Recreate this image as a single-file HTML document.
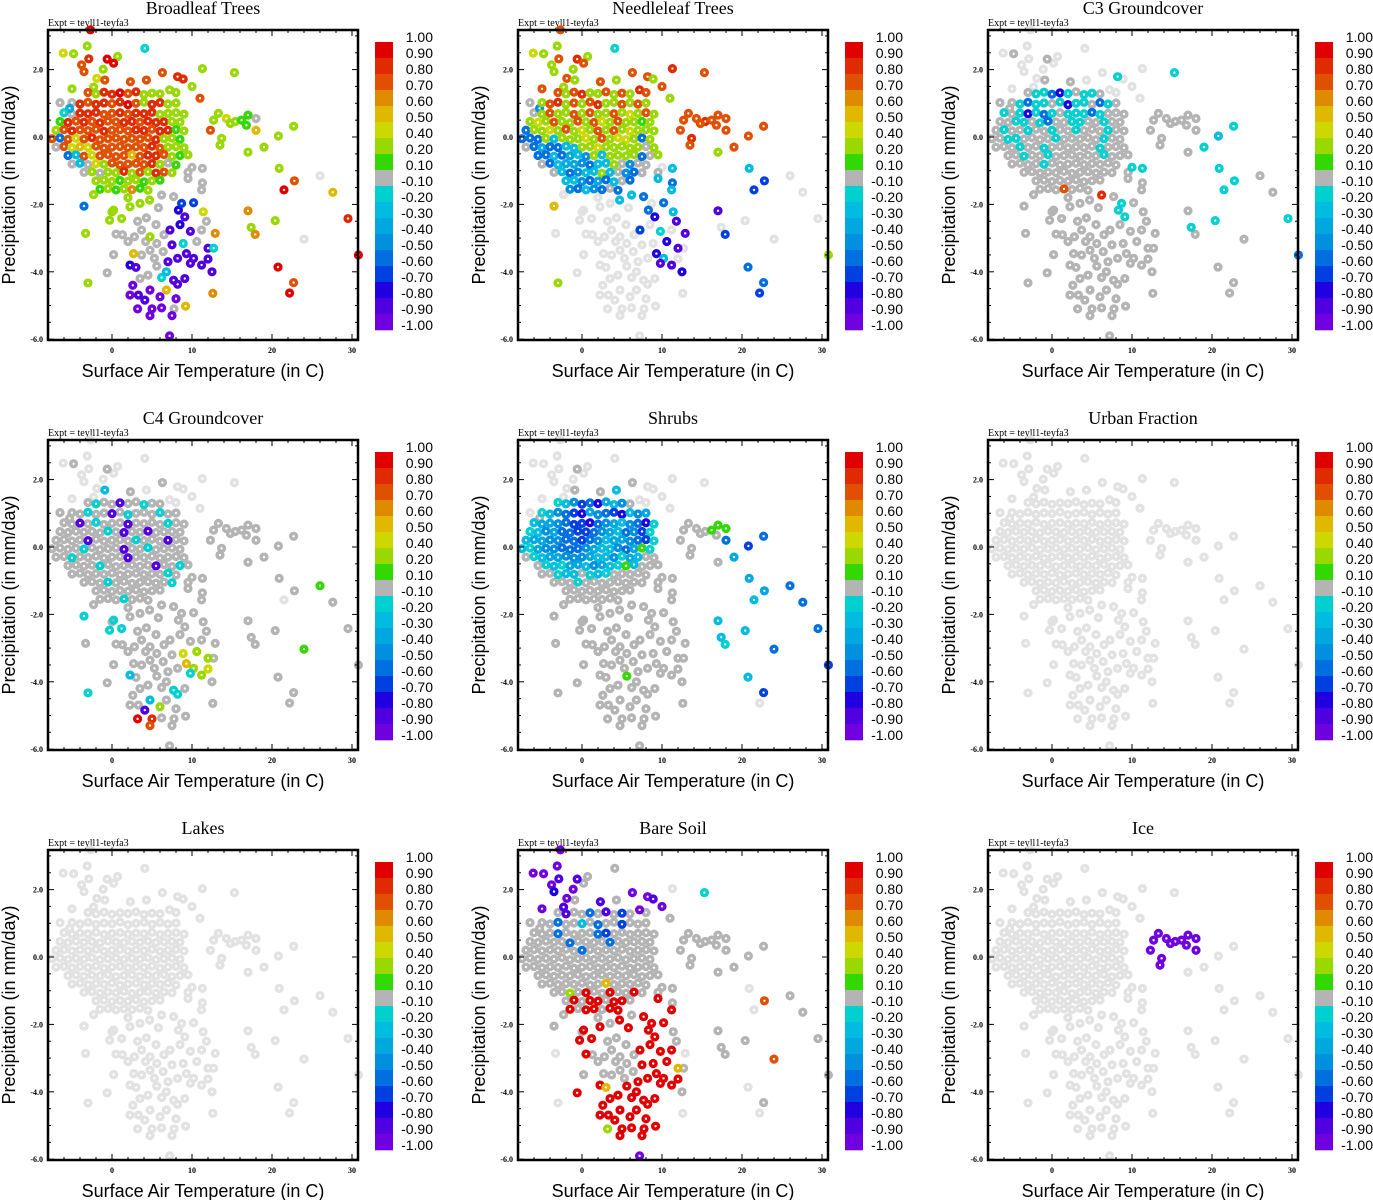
<!DOCTYPE html>
<html><head><meta charset="utf-8"><style>
html,body{margin:0;padding:0;background:#fff;}
svg{display:block;}
.ttl{font-family:"Liberation Serif",serif;font-size:18px;}
.expt{font-family:"Liberation Serif",serif;font-size:10px;}
.tk{font-family:"Liberation Serif",serif;font-size:8px;font-weight:bold;}
.ax{font-family:"Liberation Sans",sans-serif;font-size:18px;}
.cb{font-family:"Liberation Sans",sans-serif;font-size:14px;}
</style></head><body>
<svg id="fig" width="1373" height="1200" viewBox="0 0 1373 1200" xmlns="http://www.w3.org/2000/svg"></svg>
<script>
// ---- data ----
const panelTitles = ["Broadleaf Trees","Needleleaf Trees","C3 Groundcover","C4 Groundcover","Shrubs","Urban Fraction","Lakes","Bare Soil","Ice"];
const colorbarLabels = ["1.00","0.90","0.80","0.70","0.60","0.50","0.40","0.20","0.10","-0.10","-0.20","-0.30","-0.40","-0.50","-0.60","-0.70","-0.80","-0.90","-1.00"];
const binColors = ["#e00000","#e02a00","#e05000","#e08a00","#e0b800","#ccd800","#99d800","#33d800","#b4b4b4","#00d0d0","#00bce0","#00a8e0","#0090e0","#0070e0","#0040e0","#2000e0","#5000e0","#7000e0"];
const xTicks = [0,10,20,30];
const yTicks = [2,0,-2,-4,-6];
const yTickLabels = ["2.0","0.0","-2.0","-4.0","-6.0"];

const topPts = [[-2.7,3.18],[-3.1,2.7],[-6.1,2.49],[-4.8,2.47],[-2.9,2.32],[4.1,2.63],[-3.8,2.14],[-3.5,1.94],[-0.6,2.31],[0.7,2.39],[0.2,2.19],[-1.1,2.01],[11.3,2.03],[15.3,1.91],[6.3,1.91],[8.2,1.79],[8.9,1.72],[-1.9,1.74],[-0.9,1.69],[2.3,1.64],[4.3,1.69],[-5,1.43],[-2.3,1.48],[7.2,1.4],[8,1.32],[10,1.5],[11,1.15],[-6.5,1.02],[-5.3,0.85]];
const clusterPts = [
[-3,1.32],[-2,1.28],[-1,1.33],[0,1.27],[1,1.31],[2,1.29],[3,1.34],[4,1.26],[5,1.3],[6,1.28],
[-5,1.02],[-4,0.98],[-3,1.03],[-2,0.97],[-1,1.01],[0,0.99],[1,1.04],[2,0.96],[3,1.0],[4,1.03],[5,0.97],[6,1.02],[7,0.98],[8,1.01],
[-6,0.72],[-5,0.68],[-4,0.71],[-3,0.69],[-2,0.73],[-1,0.67],[0,0.7],[1,0.72],[2,0.68],[3,0.71],[4,0.69],[5,0.73],[6,0.67],[7,0.7],[8,0.72],[9,0.68],
[-6.5,0.46],[-5.5,0.43],[-4.5,0.47],[-3.5,0.44],[-2.5,0.46],[-1.5,0.42],[-0.5,0.47],[0.5,0.45],[1.5,0.43],[2.5,0.46],[3.5,0.44],[4.5,0.47],[5.5,0.43],[6.5,0.45],[7.5,0.46],[8.5,0.44],
[-7,0.2],[-6,0.22],[-5,0.18],[-4,0.21],[-3,0.19],[-2,0.23],[-1,0.17],[0,0.2],[1,0.22],[2,0.18],[3,0.21],[4,0.19],[5,0.23],[6,0.17],[7,0.2],[8,0.22],[9,0.18],
[-7.5,-0.05],[-6.5,-0.03],[-5.5,-0.07],[-4.5,-0.04],[-3.5,-0.06],[-2.5,-0.02],[-1.5,-0.08],[-0.5,-0.05],[0.5,-0.03],[1.5,-0.07],[2.5,-0.04],[3.5,-0.06],[4.5,-0.02],[5.5,-0.08],[6.5,-0.05],[7.5,-0.03],[8.5,-0.07],
[-7,-0.3],[-6,-0.28],[-5,-0.32],[-4,-0.29],[-3,-0.31],[-2,-0.27],[-1,-0.33],[0,-0.3],[1,-0.28],[2,-0.32],[3,-0.29],[4,-0.31],[5,-0.27],[6,-0.33],[7,-0.3],[8,-0.28],[9,-0.32],
[-5.5,-0.55],[-4.5,-0.53],[-3.5,-0.57],[-2.5,-0.54],[-1.5,-0.56],[-0.5,-0.52],[0.5,-0.58],[1.5,-0.55],[2.5,-0.53],[3.5,-0.57],[4.5,-0.54],[5.5,-0.56],[6.5,-0.52],[7.5,-0.58],[8.5,-0.55],[9.5,-0.53],
[-5,-0.8],[-4,-0.78],[-3,-0.82],[-2,-0.79],[-1,-0.81],[0,-0.77],[1,-0.83],[2,-0.8],[3,-0.78],[4,-0.82],[5,-0.79],[6,-0.81],[7,-0.77],[8,-0.83],
[-3.5,-1.05],[-2.5,-1.03],[-1.5,-1.07],[-0.5,-1.04],[0.5,-1.06],[1.5,-1.02],[2.5,-1.08],[3.5,-1.05],[4.5,-1.03],[5.5,-1.07],[6.5,-1.04],[7.5,-1.06],[9.5,-1.05],
[-2,-1.3],[-1,-1.28],[0,-1.32],[1,-1.29],[2,-1.31],[3,-1.27],[4,-1.33],[5,-1.3],[6,-1.28],
[-1.5,-1.55],[-0.5,-1.53],[0.5,-1.57],[1.5,-1.54],[2.5,-1.56],[3.5,-1.52],[4.5,-1.58]];
const armPts = [[12.7,0.5],[13.3,0.7],[14.3,0.55],[15.4,0.46],[16.2,0.5],[17,0.65],[18,0.55],[12.3,0.2],[13.7,-0.04],[13.5,-0.24],[18,0.2],[22.7,0.32],[20.8,0.03],[19,-0.3],[17,-0.45],[20.9,-0.93],[26,-1.15],[22.8,-1.3],[21.5,-1.57],[27.6,-1.64],[17,-2.19],[20.4,-2.48],[17.4,-2.68],[17.9,-2.89],[24,-3.03],[29.5,-2.42],[20.75,-3.86],[22.7,-4.32],[22.2,-4.63],[14.8,0.4],[16.8,0.35],[30.8,-3.5]];
const lowerPts = [[-3.5,-2.05],[-3.3,-2.86],[-3,-4.33],[-0.6,-4.03],[0.2,-3.49],[-0.3,-2.47],[0.2,-2.17],[1.2,-2.42],[0.5,-2.88],[1.3,-2.9],[2,-3.1],[2.8,-2.96],[3.7,-2.76],[4.75,-2.96],[5.6,-3.16],[2.7,-3.46],[3.7,-3.5],[4.75,-3.36],[6.4,-3.4],[7.25,-2.76],[8.3,-2.17],[9.1,-2.37],[8.7,-1.97],[10.2,-1.95],[11.4,-2.22],[11.8,-2.5],[11.2,-2.76],[12.9,-2.86],[10.6,-3.1],[8.9,-3.16],[9.3,-3.46],[10.2,-3.6],[12,-3.3],[12.7,-3.3],[12,-3.62],[11.2,-3.8],[12.5,-4],[12.6,-4.64],[2.25,-3.8],[3,-3.87],[3.5,-4.2],[2.6,-4.4],[2.25,-4.69],[3.3,-4.69],[4.1,-4.84],[4.75,-4.54],[5,-5.1],[4.75,-5.3],[3.2,-5.1],[5.6,-3.83],[6.2,-4.17],[6.8,-4],[6.8,-4.54],[6,-4.74],[6.2,-5.07],[7.5,-5.3],[7.75,-5.1],[9.2,-5.02],[7.7,-4.25],[8.2,-4.37],[9.1,-4.2],[9.8,-3.75],[11.3,-0.93],[11.3,-1.36],[11.2,-1.57],[10,-0.9],[9.5,-1.23],[7.7,-1.77],[6.2,-1.72],[4.7,-1.87],[3.5,-1.97],[2.25,-2.07],[0,-2.22],[-2.3,-1.71],[3.2,-2.5],[4.3,-2.4],[5.5,-2.6],[6.5,-2.9],[7.5,-3.2],[8.2,-3.6],[4.2,-3.1],[5.3,-3.6],[7,-3.7],[8.5,-2.6],[9.8,-2.8],[2,-1.8],[5.8,-2.1],[7.2,-5.9],[4.5,-4.1],[8,-4.8]];

// value codes: a..r = colour bins (top red .. bottom purple), '.' = missing (light grey)
const broadleafCodes = ["agfgbjccagagggcbbfcccgggggcil",
 "cgbbacbggg|ibcbbcbacgbbgg|jibbbccbcbbbgggg|hbcbcbccbbcbbbgg|gcbcccbcccbbcbbhg|cncfcbcccccccbggh|icfefcccccccbcggg|nkcfccccecbbcghg|ikifgcccccbgih|igiggbgcgbcgi|ggghgghgh|hghgdhg",
 "ggfghhicggeggggg.caedggd.bacagha",
 "nggiigggii|iiigieiiiq|pqoofiidij|qqqjqqqdpq|irrqqrrrri|jkerrrieqq|qqiiiiiiig|ggggiiiiqq|iiqpqgirir"];
const needleleafCodes = ["cgfgcjggbgcgbcccgcgcgcgbccgim",
 "cgcbggcgcg|gcbgcgcbggcgcg|igcggcgcggcgfgcg|gfgcggcgcfgcgghg|nggfgcgfgcgcgfggg|nnngkgggfgcgffgng|inlnnkkggfgggggig|nnknlkmgkggggnig|inkllmnkkgimii|iknmkkgkimnii|kkmnlnkin|mnkmnin",
 "cccbccccbcccccgk.oo.q..o..nnoccg",
 "e.g.......|.........o|np.nkq.qp.|pkq..qp...|..........|..........|.qknk.knkk|..........|....j....."];
const c3Codes = ["...i....i....j.j..ii.......ii",
 "ijjnpjijji|ijnjjijpjjinji|jijpjnjijjjnjiii|iijjijniijjiijii|ijiijiijiijiiijii|iijjiiiijiiiiijii|iiijiijiiiiiijiii|iijiijiiiiiijiii|iiiijiiiiiiiii|iiiiiiiiiiiii|iiiiiiiii|iiiciii",
 "iiiiiiiiiiijkjijijjiijjiijiiiiin",
 "iiiiiiiiii|iiiiiiiiii|jjjiiiiiii|iiiiiiiiii|iiiiiiiiii|iiiiiiiiii|iijiijiibi|iiiiiiiiii|iiiiiiiiii"];
const c4Codes = ["...i....i.....i...ki.......ii",
 "ijiiqiijii|iijiiqijiiijii|iiqijiiiqiiiijii|iiiiiijiqiiqiiii|iiiiqiiiiijiiiqii|iiiijiiiiqiijiiii|iijiiiiiiqiiiiiii|iiiijiiiiiiqiiji|iiiiiiiiiiiiji|iiijiiiiiiiji|iiiiiiiii|iiijiii",
 "iiiiiiiiiiiiiiiihi.iiiiihiiiiiii",
 "jijiijjjii|iiiiiiiiii|iiiiiiiigf|eggifgiiki|iiiiqkbcai|iiigiiiijj|ijiiiiiiii|iiiiiiiiii|iiiiiiiiii"];
const shrubsCodes = ["........i.....i...iik.......i",
 "jkmonplkmi|jkmnoplmnopkml|kllmnoopnmlkmnpj|jkmlnnoonmlknmoj|kllmmnnonmkllmnoj|kjlmmnnnmlkkmnlhj|ijkllmmmlkkmjlkii|ijkjllkmlkjhkiii|iijkkijkjiiiii|iiijiiiiiiiii|iiiiiiiii|iiiiiii",
 "iiiihhhiiinnolilnlknkkkjnnko.iio",
 "iiiiiiiiii|iiiiiiiiii|iiiiiiiiii|iiiiiiiiii|iiiiiiiiih|iiiiiiiiii|iiiiiiiiii|iiiiiiiiii|iiiiiiiiii"];
const urbanCodes = ["","","",""];
const lakesCodes = ["","","",""];
const bareSoilCodes = ["rrrrqirpqiir.jrrqriqirqririii",
 "iqiiniqioi|iiniikiniioiii|iiiniiiinoiiiiii|iiiiiniiiiniiiii|iiiiiiiniiiiiiiii|iiiiiiiiiiiiiiiii|iiiiiiiiiiiiiiiii|iiiiiiiiiiiiiiii|iiiiiiiieiiiii|iigiaiiaiiaii|iaiaaiaai|aiaaiaa",
 "iiiiiiiiiiiiiii.ic.iiiiici.i.iii",
 "i..aiaaaai|iiiiiiiiia|aaaaiia.aa|aaeiaai.ae|aaaaaaaaga|aaaaaaaaaa|aaiiaiaaia|iaiiiiiiaa|iiaaaiaraa"];
const iceCodes = ["","","rrrrrrrrrrr..................rr.",""];
const panelCodes = [broadleafCodes,needleleafCodes,c3Codes,c4Codes,shrubsCodes,urbanCodes,lakesCodes,bareSoilCodes,iceCodes];

// ---- drawing ----
const NS = "http://www.w3.org/2000/svg";
const fig = document.getElementById("fig");
function mk(tag, attrs, parent, text){
  const e = document.createElementNS(NS, tag);
  for (const k in attrs) e.setAttribute(k, attrs[k]);
  if (text !== undefined) e.textContent = text;
  parent.appendChild(e);
  return e;
}
const xS = t => 112 + 8*t;
const yS = p => 137 - 33.7*p;
const groups = [topPts, clusterPts, armPts, lowerPts];

function decode(codes, pts, idx){
  const s = (codes[idx] || "").replace(/\|/g,"");
  const out = [];
  for (let i=0;i<pts.length;i++) out.push(i < s.length ? s[i] : ".");
  return out;
}

panelTitles.forEach((title, pi) => {
  const ox = (pi%3)*470, oy = Math.floor(pi/3)*410;
  const slug = title.toLowerCase().replace(/[^a-z0-9]+/g,"-");
  const g = mk("g", {transform:`translate(${ox},${oy})`}, fig);
  
  

  const t = mk("text", {x:203, y:14, "text-anchor":"middle", class:"ttl"}, g, title);
  
  
  const ex = mk("text", {x:48, y:26, class:"expt"}, g, "Expt = teyll1-teyfa3");
  
  

  const pts = [];
  groups.forEach((grp, gi) => {
    const codes = decode(panelCodes[pi], grp, gi);
    grp.forEach((p, i) => pts.push({p, c: codes[i]}));
  });
  const rank = c => c === "." ? 0 : (c === "i" ? 1 : 2);
  pts.sort((a,b) => rank(a.c) - rank(b.c));
  const pg = mk("g", {}, g);
  
  
  pts.forEach(d => {
    const col = d.c === "." ? "#e2e2e2" : binColors[d.c.charCodeAt(0)-97] || "#e2e2e2";
    const c = mk("circle", {cx:xS(d.p[0]), cy:yS(d.p[1]), r:2.9, fill:"none", stroke:col, "stroke-width":3.4}, pg);
    
    
  });

  const tg = mk("g", {stroke:"#000", "stroke-width":1}, g);
  
  
  for (let v=-8; v<=30; v+=2){
    const x = xS(v), major = v%10===0;
    const L = major ? 6 : 3;
    mk("line", {x1:x, y1:340, x2:x, y2:340-L}, tg);
    mk("line", {x1:x, y1:30, x2:x, y2:30+L}, tg);
  }
  for (let v=-6; v<=3; v+=0.5){
    const y = yS(v), major = Math.abs(v%2)<1e-6;
    const L = major ? 6 : 3;
    mk("line", {x1:48, y1:y, x2:48+L, y2:y}, tg);
    mk("line", {x1:358, y1:y, x2:358-L, y2:y}, tg);
  }
  const fr = mk("rect", {x:48, y:30, width:310, height:310, fill:"none", stroke:"#000", "stroke-width":2.5}, g);
  
  

  xTicks.forEach(v => {
    const l = mk("text", {x:xS(v), y:353, "text-anchor":"middle", class:"tk"}, g, String(v));
    
    
  });
  yTicks.forEach((v,i) => {
    const l = mk("text", {x:43, y:yS(v)+3, "text-anchor":"end", class:"tk"}, g, yTickLabels[i]);
    
    
  });
  const xt = mk("text", {x:203, y:377, "text-anchor":"middle", class:"ax"}, g, "Surface Air Temperature (in C)");
  
  
  const yt = mk("text", {x:0, y:0, "text-anchor":"middle", class:"ax", transform:"translate(15,185) rotate(-90)"}, g, "Precipitation (in mm/day)");
  
  

  const cb = mk("g", {}, g);
  
  
  binColors.forEach((col, i) => {
    const r = mk("rect", {x:375, y:42+16*i, width:18, height:16.3, fill:col}, cb);
    
    
  });
  colorbarLabels.forEach((lab, i) => {
    const l = mk("text", {x:433, y:42+16*i, "text-anchor":"end", class:"cb"}, cb, lab);
    
    
  });
});
</script>
</body></html>
